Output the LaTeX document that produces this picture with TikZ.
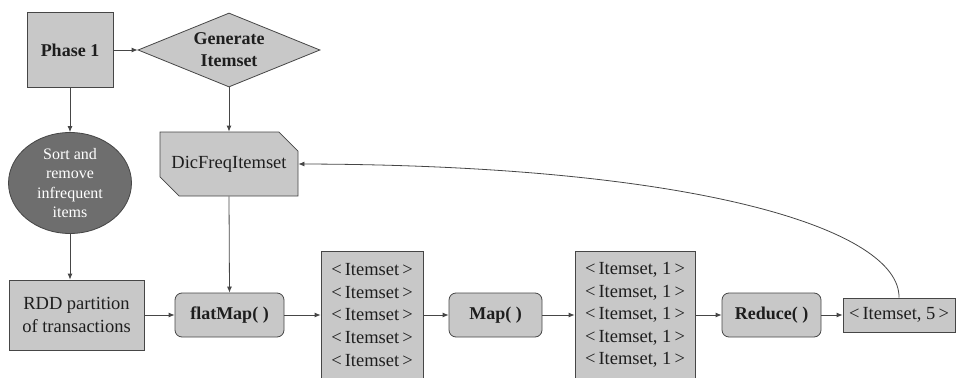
\documentclass[tikz,border=0pt]{standalone}
\usepackage{fontspec}
\setmainfont{Liberation Serif}
\usetikzlibrary{shapes.geometric,shapes.misc,arrows.meta}
\definecolor{boxfill}{RGB}{200,200,200}
\definecolor{boxline}{RGB}{70,70,70}
\definecolor{ellfill}{RGB}{110,110,110}
\definecolor{txt}{RGB}{30,30,30}
\begin{document}
\begin{tikzpicture}[x=1pt,y=-1pt,
  base/.style={draw=boxline,fill=boxfill,line width=0.8pt,inner sep=0pt,text=txt,align=center,
    font=\fontsize{18.5}{22.6}\selectfont},
  sqbox/.style={base,rectangle},
  rbox/.style={base,rectangle,rounded corners=7pt,font=\fontsize{18}{22}\selectfont\bfseries},
  conn/.style={draw=boxline,line width=0.8pt,-{Latex[length=6pt,width=5pt]}}]
\useasboundingbox (0,0) rectangle (957,377);
\clip (0,0) rectangle (957,377);
\node[sqbox,minimum width=86pt,minimum height=75pt,font=\fontsize{18}{22}\selectfont\bfseries] (phase) at (70,50) {Phase 1};
\node[base,diamond,aspect=2.46,minimum width=182pt,minimum height=74pt,font=\fontsize{18}{22}\selectfont\bfseries] (gen) at (229,50) {Generate\\Itemset};
\node[base,chamfered rectangle,chamfered rectangle corners={north east,south west},chamfered rectangle xsep=11pt,chamfered rectangle ysep=11pt,minimum width=138pt,minimum height=64pt] (dic) at (229,164) {DicFreqItemset};
\node[draw=boxline,fill=ellfill,line width=0.8pt,ellipse,minimum width=123pt,minimum height=101pt,inner sep=0pt,text=white,align=center,font=\fontsize{16}{19.5}\selectfont] (ell) at (70,183) {Sort and\\remove\\infrequent\\items};
\node[sqbox,minimum width=135pt,minimum height=70pt] (rdd) at (76.5,315) {RDD partition\\of transactions};
\node[rbox,minimum width=109pt,minimum height=44pt] (flat) at (229.5,315) {flatMap( )};
\node[sqbox,minimum width=102pt,minimum height=128pt] (l1) at (372,315) {<\,Itemset\,>\\<\,Itemset\,>\\<\,Itemset\,>\\<\,Itemset\,>\\<\,Itemset\,>};
\node[rbox,minimum width=93pt,minimum height=44pt] (map) at (495.5,315) {Map( )};
\node[sqbox,minimum width=120pt,minimum height=128pt] (l2) at (635,315) {<\,Itemset, 1\,>\\<\,Itemset, 1\,>\\<\,Itemset, 1\,>\\<\,Itemset, 1\,>\\<\,Itemset, 1\,>};
\node[rbox,minimum width=99pt,minimum height=44pt] (red) at (771.5,315) {Reduce( )};
\node[sqbox,minimum width=112pt,minimum height=34pt] (it5) at (899,315) {<\,Itemset, 5\,>};
\draw[conn] (phase.east) -- (gen.west);
\draw[conn] (phase.south) -- (ell.north);
\draw[conn] (ell.south) -- (rdd.north -| ell.south);
\draw[conn] (gen.south) -- (dic.north);
\draw[conn] (dic.south) -- (flat.north);
\draw[conn] (rdd.east) -- (flat.west);
\draw[conn] (flat.east) -- (l1.west);
\draw[conn] (l1.east) -- (map.west);
\draw[conn] (map.east) -- (l2.west);
\draw[conn] (l2.east) -- (red.west);
\draw[conn] (red.east) -- (it5.west);
\draw[conn] (it5.north) .. controls (900,230) and (700,165) .. (dic.east);
\end{tikzpicture}
\end{document}
